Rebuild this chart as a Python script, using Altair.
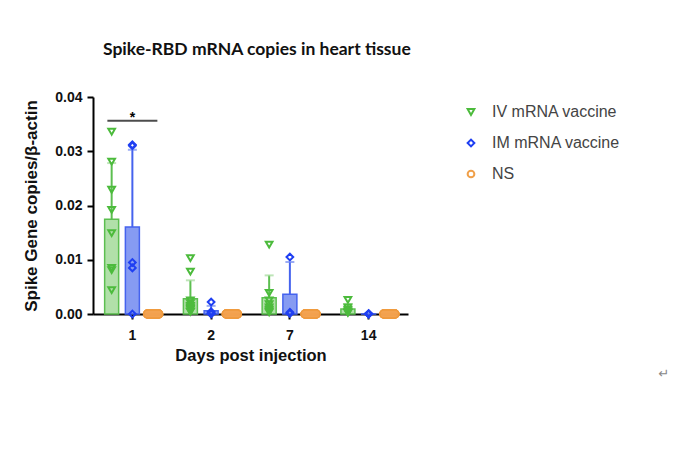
import altair as alt
import pandas as pd

days = ["1", "2", "7", "14"]
groups = ["IV mRNA vaccine", "IM mRNA vaccine", "NS"]
codes = ["IV", "IM", "NS"]

iv_d1 = [0.0336, 0.0281, 0.0229, 0.0192, 0.0149, 0.0085, 0.0081, 0.0044]
iv_d2 = [0.0103, 0.0078, 0.0025, 0.0020, 0.0015, 0.0012, 0.0010, 0.0008, 0.0005, 0.0004]
iv_d7 = [0.0128, 0.0039, 0.0025, 0.0018, 0.0012, 0.0008, 0.0005, 0.0003]
iv_d14 = [0.0026, 0.0012, 0.0008, 0.0005, 0.0003, 0.0002]

im_d1 = [0.0312, 0.0310, 0.0095, 0.0085, 0.0]
im_d2 = [0.0022, 0.0004, 0.0002, 0.0001, 0.0]
im_d7 = [0.0105, 0.0003, 0.0001]
im_d14 = [0.0001, 0.0, 0.0, 0.0]

ns_d1 = [0.0, 0.0, 0.0, 0.0]
ns_d2 = [0.0, 0.0, 0.0, 0.0]
ns_d7 = [0.0, 0.0, 0.0, 0.0]
ns_d14 = [0.0, 0.0, 0.0, 0.0]

series = {
    "IV mRNA vaccine": [iv_d1, iv_d2, iv_d7, iv_d14],
    "IM mRNA vaccine": [im_d1, im_d2, im_d7, im_d14],
    "NS": [ns_d1, ns_d2, ns_d7, ns_d14],
}

rows = []
for (g, lists), c in zip(series.items(), codes):
    for d, vals in zip(days, lists):
        for v in vals:
            rows.append({"day": d, "group": g, "code": c, "value": v})
df = pd.DataFrame(rows)

sig_df = pd.DataFrame({"day": ["1"], "y": [0.0356], "ystar": [0.0354], "label": ["*"]})

stroke_colors = ["#4cbb3c", "#1f3ff2", "#f0a04a"]
fill_colors = ["#a3da9a", "#7189f0", "#f3b06a"]
bar_stroke = ["#5cbf50", "#4563ee", "#f0a04a"]

# overlapping zero-valued NS circles drawn as one pill-shaped cluster
pill = "M -0.55 -0.4 L 0.55 -0.4 A 0.4 0.4 0 0 1 0.55 0.4 L -0.55 0.4 A 0.4 0.4 0 0 1 -0.55 -0.4 Z"

x_enc = alt.X(
    "day:N", sort=days, title="Days post injection",
    scale=alt.Scale(paddingInner=0, paddingOuter=0),
    axis=alt.Axis(labelAngle=0, labelFont="Liberation Sans", labelFontWeight="bold",
                  labelFontSize=14, labelColor="#111", titleFont="Liberation Sans",
                  titleFontWeight="bold", titleFontSize=16.5, titleColor="#111",
                  domainColor="#000", domainWidth=2, tickColor="#000", tickWidth=2,
                  tickSize=5, labelPadding=9, titlePadding=5),
)
xoff = alt.XOffset("group:N", sort=groups,
                   scale=alt.Scale(domain=groups, paddingInner=0, paddingOuter=0.4))
y_scale = alt.Scale(domain=[0, 0.04], nice=False)
y_axis = alt.Axis(values=[0, 0.01, 0.02, 0.03, 0.04], format=".2f",
                  labelFont="Liberation Sans", labelFontWeight="bold", labelFontSize=14,
                  labelColor="#111", titleFont="Liberation Sans", titleFontWeight="bold",
                  titleFontSize=17, titleColor="#111", domainColor="#000", domainWidth=2,
                  tickColor="#000", tickWidth=2, tickSize=6, grid=False, labelPadding=5,
                  titlePadding=14)

base = alt.Chart(df)

bars = base.mark_bar(size=14, strokeWidth=1.5, fillOpacity=0.85).encode(
    x=x_enc, xOffset=xoff,
    y=alt.Y("mean(value):Q", scale=y_scale, axis=y_axis, title="Spike Gene copies/β-actin"),
    fill=alt.Fill("code:N", scale=alt.Scale(domain=codes, range=fill_colors), legend=None),
    stroke=alt.Stroke("code:N", scale=alt.Scale(domain=codes, range=bar_stroke), legend=None),
)

stats = base.transform_aggregate(
    m="mean(value)", s="stdev(value)", groupby=["day", "group", "code"]
).transform_calculate(
    upper="datum.m + (isValid(datum.s) ? datum.s : 0)"
)

err = stats.mark_rule(strokeWidth=2).encode(
    x=alt.X("day:N", sort=days), xOffset=xoff,
    y=alt.Y("m:Q", scale=y_scale), y2="upper:Q",
    stroke=alt.Stroke("code:N", legend=None),
)
cap = stats.mark_tick(size=9, thickness=2, orient="horizontal").encode(
    x=alt.X("day:N", sort=days), xOffset=xoff,
    y=alt.Y("upper:Q", scale=y_scale),
    fill=alt.Fill("code:N", legend=None),
)

leg = alt.Legend(title=None, orient="none", legendX=370, legendY=7, padding=0,
                 labelFont="Liberation Sans", labelFontSize=16, labelColor="#444",
                 symbolSize=45, symbolStrokeWidth=2, rowPadding=15, labelOffset=13)

points = base.transform_filter("datum.code != 'NS'").mark_point(
    filled=False, strokeWidth=2, size=45, opacity=1
).encode(
    x=alt.X("day:N", sort=days), xOffset=xoff,
    y=alt.Y("value:Q", scale=y_scale),
    color=alt.Color("group:N", sort=groups,
                    scale=alt.Scale(domain=groups, range=stroke_colors), legend=leg),
    shape=alt.Shape("group:N", sort=groups,
                    scale=alt.Scale(domain=groups, range=["triangle-down", "diamond", "circle"]),
                    legend=leg),
)

ns_points = base.transform_filter("datum.code == 'NS'").mark_point(
    shape=pill, size=400, filled=True, fill="#f3a24e", fillOpacity=0.65,
    stroke="#ef9a3e", strokeWidth=1.5
).encode(
    x=alt.X("day:N", sort=days), xOffset=xoff,
    y=alt.Y("value:Q", scale=y_scale),
)

sig = alt.Chart(sig_df).mark_tick(size=50, thickness=2, color="#000", orient="horizontal").encode(
    x=alt.X("day:N", sort=days), y=alt.Y("y:Q", scale=y_scale)
)
star = alt.Chart(sig_df).mark_text(font="Liberation Sans", fontWeight="bold", fontSize=14,
                                   baseline="alphabetic", color="#000").encode(
    x=alt.X("day:N", sort=days), y=alt.Y("ystar:Q", scale=y_scale), text="label:N"
)
mark_char = alt.Chart(pd.DataFrame({"t": ["↵"]})).mark_text(
    fontSize=13, color="#888", align="center", baseline="middle", font="DejaVu Sans"
).encode(x=alt.value(571), y=alt.value(277), text="t:N")

chart = alt.layer(bars, err, cap, ns_points, points, sig, star, mark_char).properties(
    width=315, height=217,
    title=alt.TitleParams("Spike-RBD mRNA copies in heart tissue", anchor="start",
                          frame="group", font="Lato", fontSize=17.5, fontWeight="bold",
                          color="#111", dx=10, offset=32),
    autosize=alt.AutoSizeParams(type="none"),
    padding={"left": 85, "top": 89, "right": 264, "bottom": 148},
).configure_view(stroke=None)

chart.save("out.html", embed_options={"renderer": "svg", "actions": False})
